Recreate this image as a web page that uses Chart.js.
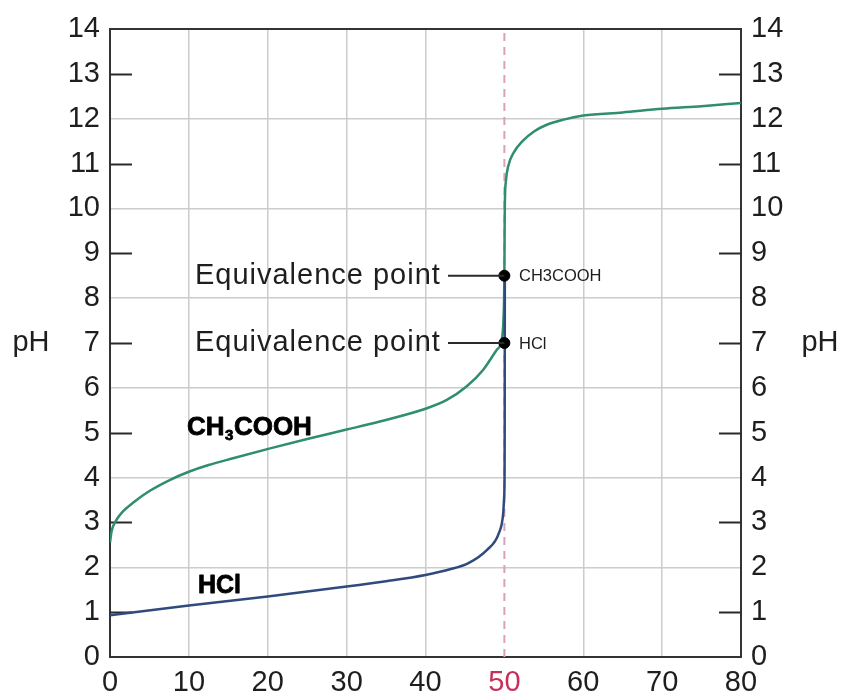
<!DOCTYPE html>
<html>
<head>
<meta charset="utf-8">
<script src="https://cdn.jsdelivr.net/npm/chart.js@4.4.1/dist/chart.umd.min.js"></script>
<style>
  html, body { margin: 0; padding: 0; background: #ffffff; }
  canvas { display: block; }
</style>
</head>
<body>
<canvas id="c" width="841" height="695"></canvas>
<script>
// ---- Data ----
const xTicks = [0, 10, 20, 30, 40, 50, 60, 70, 80];
const yTicks = [0, 1, 2, 3, 4, 5, 6, 7, 8, 9, 10, 11, 12, 13, 14];

const ch3coohX = [0, 0.2, 0.8, 1.5, 3, 5, 7.5, 10, 12.5, 15.6, 20.3, 25, 30, 34.2, 40.1, 42.7, 45.2, 47.3, 49.0, 49.65, 49.9, 50.0, 50.03, 50.06, 50.2, 50.5, 51.2, 52.3, 53.8, 55.3, 57.5, 60, 65, 70, 75, 80];
const ch3coohY = [2.55, 2.8, 3.05, 3.22, 3.45, 3.7, 3.94, 4.13, 4.28, 4.43, 4.65, 4.86, 5.07, 5.25, 5.54, 5.73, 6.03, 6.4, 6.84, 7.07, 7.6, 8.5, 9.5, 10.1, 10.62, 10.95, 11.25, 11.5, 11.72, 11.86, 11.98, 12.07, 12.14, 12.22, 12.28, 12.35];

const hclX = [0, 10, 20, 30, 35, 40, 43, 45.5, 47.8, 49.3, 49.85, 49.95, 50.02, 50.04, 50.05, 50.06];
const hclY = [0.93, 1.15, 1.35, 1.57, 1.69, 1.83, 1.95, 2.1, 2.39, 2.76, 3.2, 3.5, 3.95, 5.0, 7.0, 8.5];

const equivX = [50, 50];
const equivY = [8.5, 7.0];
const equivNames = ['CH3COOH', 'HCl'];
const equivLabel = 'Equivalence point';

const eqVolume = 50;
const yRange = [0, 14];
const xRange = [0, 80];

// ---- Build datasets ----
const toPts = (xs, ys) => xs.map((x, i) => ({ x: x, y: ys[i] }));
const FONT = '"Liberation Sans", Arial, Helvetica, sans-serif';

const annotations = {
  id: 'annotations',
  beforeDatasetsDraw(chart) {
    const { ctx, chartArea: a } = chart;
    const ys = chart.scales.y;
    ctx.save();
    // inward tick marks at odd values (both sides)
    ctx.strokeStyle = '#2a2a2a';
    ctx.lineWidth = 2;
    yTicks.forEach(v => {
      if (v % 2 === 1) {
        const py = Math.round(ys.getPixelForValue(v)) + 0.5;
        ctx.beginPath();
        ctx.moveTo(a.left, py); ctx.lineTo(a.left + 22, py);
        ctx.moveTo(a.right - 22, py); ctx.lineTo(a.right, py);
        ctx.stroke();
      }
    });
    ctx.restore();
  },
  afterDatasetsDraw(chart) {
    const { ctx, chartArea: a } = chart;
    const xs = chart.scales.x, ys = chart.scales.y;
    ctx.save();
    // top border
    ctx.strokeStyle = '#333';
    ctx.lineWidth = 2;
    ctx.beginPath();
    ctx.moveTo(a.left, a.top); ctx.lineTo(a.right, a.top);
    ctx.stroke();

    // pH labels
    ctx.fillStyle = '#1e1e1e';
    ctx.font = '29px ' + FONT;
    ctx.textBaseline = 'middle';
    ctx.textAlign = 'center';
    ctx.fillText('pH', 31, ys.getPixelForValue(7));
    ctx.fillText('pH', 820, ys.getPixelForValue(7));

    // Equivalence point labels + leader lines
    const textRight = xs.getPixelForValue(41.95);
    const lineStart = xs.getPixelForValue(42.85);
    equivY.forEach((v, i) => {
      const py = ys.getPixelForValue(v);
      const px = xs.getPixelForValue(equivX[i]);
      ctx.fillStyle = '#1e1e1e';
      ctx.font = '29px ' + FONT;
      ctx.textAlign = 'right';
      ctx.textBaseline = 'middle';
      try { ctx.letterSpacing = '1px'; } catch (e) {}
      ctx.fillText(equivLabel, textRight, py);
      try { ctx.letterSpacing = '0px'; } catch (e) {}
      ctx.strokeStyle = '#2a2a2a';
      ctx.lineWidth = 2;
      ctx.beginPath();
      ctx.moveTo(lineStart, py); ctx.lineTo(px, py);
      ctx.stroke();
      ctx.font = '16.5px ' + FONT;
      ctx.textAlign = 'left';
      ctx.fillText(equivNames[i], xs.getPixelForValue(51.85), py + 1);
    });

    // Curve labels (heavy bold)
    ctx.fillStyle = '#000';
    ctx.strokeStyle = '#000';
    ctx.lineWidth = 0.8;
    ctx.lineJoin = 'round';
    ctx.textAlign = 'left';
    ctx.textBaseline = 'alphabetic';
    const heavy = (t, x, y) => { ctx.fillText(t, x, y); ctx.strokeText(t, x, y); };
    let x0 = xs.getPixelForValue(9.76), by = ys.getPixelForValue(4.95);
    ctx.font = 'bold 26px ' + FONT;
    heavy('CH', x0, by);
    x0 += ctx.measureText('CH').width + 0.5;
    ctx.font = 'bold 15px ' + FONT;
    heavy('3', x0, by + 5);
    x0 += ctx.measureText('3').width + 0.5;
    ctx.font = 'bold 26px ' + FONT;
    heavy('COOH', x0, by);

    ctx.font = 'bold 25px ' + FONT;
    heavy('HCl', xs.getPixelForValue(11.15), ys.getPixelForValue(1.43));
    ctx.restore();
  }
};

const gridColor = '#cccccc';
const chart = new Chart(document.getElementById('c'), {
  type: 'line',
  data: {
    datasets: [
      {
        label: 'equivalence volume',
        data: [{ x: eqVolume, y: yRange[0] }, { x: eqVolume, y: yRange[1] }],
        borderColor: '#d9a3b5',
        borderWidth: 2,
        borderDash: [8, 6],
        pointRadius: 0,
        order: 5
      },
      {
        label: 'CH3COOH',
        data: toPts(ch3coohX, ch3coohY),
        borderColor: '#2f8e6b',
        borderWidth: 2.5,
        pointRadius: 0,
        cubicInterpolationMode: 'monotone',
        order: 3
      },
      {
        label: 'HCl',
        data: toPts(hclX, hclY),
        borderColor: '#2f4a7c',
        borderWidth: 2.5,
        pointRadius: 0,
        cubicInterpolationMode: 'monotone',
        order: 2
      },
      {
        label: 'Equivalence points',
        type: 'scatter',
        data: toPts(equivX, equivY),
        backgroundColor: '#000',
        borderColor: '#000',
        pointRadius: 5.5,
        order: 0
      }
    ]
  },
  options: {
    responsive: false,
    animation: false,
    events: [],
    layout: { padding: { top: 29, left: 0, right: 0, bottom: 0 } },
    plugins: { legend: { display: false }, tooltip: { enabled: false } },
    scales: {
      x: {
        type: 'linear',
        min: xRange[0], max: xRange[1],
        afterBuildTicks: s => { s.ticks = xTicks.map(v => ({ value: v })); },
        ticks: {
          font: { family: FONT, size: 29 },
          color: c => c.tick.value === eqVolume ? '#c8305c' : '#1e1e1e',
          padding: 9,
          maxRotation: 0,
          autoSkip: false
        },
        grid: {
          drawTicks: false,
          lineWidth: 1.5,
          color: c => (c.tick && c.tick.value > xRange[0] && c.tick.value < xRange[1] && c.tick.value !== eqVolume) ? gridColor : 'rgba(0,0,0,0)'
        },
        border: { display: true, color: '#333', width: 2 },
        afterFit: s => { s.height = 38; }
      },
      y: {
        type: 'linear',
        position: 'left',
        min: yRange[0], max: yRange[1],
        afterBuildTicks: s => { s.ticks = yTicks.map(v => ({ value: v })); },
        ticks: {
          font: { family: FONT, size: 29 },
          color: '#1e1e1e',
          padding: 10,
          autoSkip: false
        },
        grid: {
          drawTicks: false,
          lineWidth: 1.5,
          color: c => (c.tick && c.tick.value % 2 === 0 && c.tick.value > yRange[0] && c.tick.value < yRange[1]) ? gridColor : 'rgba(0,0,0,0)'
        },
        border: { display: true, color: '#333', width: 2 },
        afterFit: s => { s.width = 110; }
      },
      y2: {
        type: 'linear',
        position: 'right',
        min: yRange[0], max: yRange[1],
        afterBuildTicks: s => { s.ticks = yTicks.map(v => ({ value: v })); },
        ticks: {
          font: { family: FONT, size: 29 },
          color: '#1e1e1e',
          padding: 10,
          autoSkip: false
        },
        grid: { display: false, drawTicks: false },
        border: { display: true, color: '#333', width: 2 },
        afterFit: s => { s.width = 100; }
      }
    }
  },
  plugins: [annotations]
});
</script>
</body>
</html>
